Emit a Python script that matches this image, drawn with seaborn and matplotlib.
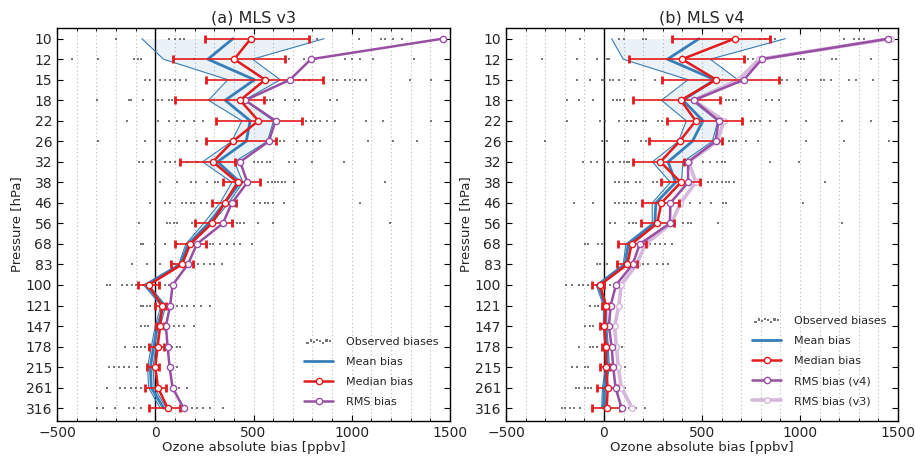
import numpy as np
import pandas as pd
import matplotlib
matplotlib.use("Agg")
import matplotlib.pyplot as plt
import seaborn as sns

# MLS standard pressure levels [hPa] and their tick labels
pressure = [10.0, 12.115, 14.678, 17.783, 21.544, 26.102, 31.623, 38.312, 46.416, 56.234,
            68.129, 82.540, 100.0, 121.15, 146.78, 177.83, 215.44, 261.02, 316.23]
level_labels = ["10", "12", "15", "18", "22", "26", "32", "38", "46", "56",
                "68", "83", "100", "121", "147", "178", "215", "261", "316"]

# ---- panel (a) MLS v3 ----
mean_v3 = [395, 268, 505, 356, 483, 463, 317, 432, 353, 271, 169, 127, -46, 42, 12, -8, -25, -20, 42]
mean_lo_v3 = [-68, 42, 369, 271, 441, 390, 241, 390, 330, 246, 156, 119, -59, 29, 0, -20, -39, -34, 25]
mean_hi_v3 = [859, 495, 636, 453, 602, 571, 403, 446, 373, 288, 181, 136, -34, 54, 25, 5, -12, -5, 56]
median_v3 = [486, 402, 559, 432, 525, 395, 293, 419, 353, 288, 178, 136, -34, 34, 25, 12, 0, 14, 63]
med_lo_v3 = [254, 90, 258, 98, 310, 259, 124, 344, 288, 200, 102, 81, -90, 0, 3, -34, -42, -51, -31]
med_hi_v3 = [780, 661, 856, 554, 746, 615, 407, 531, 412, 390, 258, 190, 17, 56, 46, 46, 17, 56, 127]
rms_v3 = [1463, 792, 686, 458, 612, 578, 432, 469, 390, 344, 212, 166, 88, 76, 54, 63, 73, 88, 144]
obs_v3 = [
    [-200, 70, 100, 125, 145, 822, 1035, 1150, 1170, 1210, 1255],
    [-425, -290, -110, -90, -75, 95, 195, 680, 755, 820, 965, 1000, 1040, 1110, 1315],
    [-50, -25, 25, 50, 75, 100, 125, 155, 730, 755, 780, 905, 925, 965, 990, 1015, 1040, 1070, 1295, 1405],
    [-295, -135, -125, -60, 15, 35, 70, 85, 570, 585, 600, 660, 710, 730, 890, 925],
    [-145, 15, 70, 110, 145, 195, 245, 765, 795, 815, 840, 875, 915, 1070, 1160, 1405],
    [-290, -50, 25, 75, 120, 160, 210, 635, 655, 720, 770, 805, 840, 1085, 1210, 1330],
    [-85, -60, -15, 50, 75, 100, 160, 210, 500, 525, 545, 570, 585, 680, 710, 800, 960],
    [25, 110, 180, 205, 265, 305, 320, 575, 595, 610, 625, 645, 660, 705, 1170],
    [-25, 50, 75, 135, 155, 180, 195, 235, 265, 315, 500, 535, 560, 575, 600, 655, 1040],
    [-85, 60, 75, 95, 110, 185, 415, 430, 450, 525, 600, 1195],
    [-75, -60, 0, 50, 110, 265, 280, 295, 330, 365, 400, 430, 490],
    [-120, -40, 25, 95, 195, 220, 250, 280, 300, 340],
    [-245, -230, -170, -145, -120, -100, -60, 25, 50, 70],
    [-75, -60, -40, -25, 85, 110, 135, 160, 195, 235, 280],
    [-70, -50, -35, 95, 120, 145, 195],
    [-155, -110, -95, -70, -50, 85, 110, 125],
    [-235, -210, -185, -160, -135, -95, 85, 110],
    [-245, -180, -155, -125, -100, -75, 120, 160],
    [-295, -265, -205, -135, -110, -75, 185, 210, 245, 280, 345],
]

# ---- panel (b) MLS v4 ----
mean_v4 = [485, 324, 565, 403, 505, 451, 327, 365, 265, 259, 124, 107, -29, 5, 5, 14, 17, 2, -3]
mean_lo_v4 = [39, 98, 429, 293, 420, 380, 247, 339, 246, 246, 112, 98, -40, -3, -3, 5, 8, -8, -12]
mean_hi_v4 = [925, 542, 683, 446, 581, 553, 403, 395, 293, 271, 136, 115, -20, 14, 14, 22, 27, 12, 7]
median_v4 = [666, 398, 573, 392, 468, 386, 288, 392, 293, 271, 141, 119, -20, 10, 2, 8, 10, 19, 14]
med_lo_v4 = [349, 127, 297, 149, 324, 231, 149, 290, 192, 188, 73, 64, -59, -8, -20, -12, -20, -34, -59]
med_hi_v4 = [849, 712, 895, 590, 705, 602, 407, 488, 381, 358, 212, 166, 2, 25, 22, 17, 31, 64, 81]
rms_v4 = [1451, 805, 714, 458, 585, 569, 429, 429, 339, 336, 183, 146, 61, 34, 25, 39, 47, 59, 90]
obs_v4 = [
    [-120, 75, 100, 200, 215, 795, 820, 845, 870, 1225, 1275, 1300, 1325],
    [-315, -140, -35, 15, 25, 735, 760, 990, 1005, 1020, 1165, 1185, 1360],
    [-140, -70, -10, 0, 30, 45, 75, 140, 160, 260, 910, 935, 990, 1030, 1105, 1120, 1160, 1250, 1285, 1370],
    [-190, -130, -55, 45, 65, 80, 100, 625, 640, 660, 675, 740, 825, 855, 895],
    [-190, -20, 5, 75, 115, 140, 165, 200, 215, 275, 295, 750, 770, 795, 845, 930, 1030, 1215, 1360],
    [-300, -10, 15, 105, 125, 190, 215, 640, 660, 675, 725, 785, 1030, 1225, 1455],
    [-105, -65, -35, 5, 20, 45, 80, 100, 115, 130, 505, 540, 575, 600, 615, 845, 995],
    [55, 75, 105, 125, 165, 185, 250, 270, 530, 550, 575, 600, 625, 640, 665, 1130],
    [-155, -55, 55, 75, 100, 115, 140, 165, 440, 490, 545, 605, 625, 1015],
    [30, 55, 130, 150, 165, 405, 430, 445, 580, 1215],
    [-95, -80, -30, -10, 235, 260, 285, 310, 345],
    [-35, -20, 15, 200, 225, 270, 300, 325],
    [-195, -165, -130, -105, -80, 30, 55],
    [-70, -45, -30, 45, 75],
    [-95, -70, -55, 45, 65],
    [-130, -70, -55, -35, 75, 90],
    [-165, -140, -95, -80, 80, 105],
    [-145, -130, -95, -80, -65, 80, 105],
    [-215, -200, -175, -155, -120, 130, 165, 210],
]

titles = ["(a) MLS v3", "(b) MLS v4"]
xticks = [-500, 0, 500, 1000, 1500]
xticklabels = ["\u2212500", "0", "500", "1000", "1500"]

BLUE = "#377eb8"
RED = "#e41a1c"
PURPLE = "#984ea3"
LIGHT_PURPLE = "#d6b8dc"

sns.set_theme(style="ticks")
plt.rcParams["font.family"] = ["DejaVu Sans"]

fig = plt.figure(figsize=(9.15, 4.57), dpi=100)
axes = [fig.add_axes([0.0623, 0.0785, 0.4295, 0.861]),
        fig.add_axes([0.5530, 0.0785, 0.4284, 0.861])]

panels = [
    (mean_v3, mean_lo_v3, mean_hi_v3, median_v3, med_lo_v3, med_hi_v3, rms_v3, obs_v3),
    (mean_v4, mean_lo_v4, mean_hi_v4, median_v4, med_lo_v4, med_hi_v4, rms_v4, obs_v4),
]

for i, (ax, pdat) in enumerate(zip(axes, panels)):
    mean, mlo, mhi, med, dlo, dhi, rms, obs = pdat
    df = pd.DataFrame({"p": pressure, "mean": mean, "lo": mlo, "hi": mhi,
                       "med": med, "dlo": dlo, "dhi": dhi, "rms": rms, "rms3": rms_v3})
    ox, oy = [], []
    for lev, vals in zip(pressure, obs):
        ox += vals
        oy += [lev] * len(vals)
    dfo = pd.DataFrame({"x": ox, "p": oy})

    ax.set_yscale("log")
    for gx in range(-400, 1500, 100):
        ax.axvline(gx, color="#bbbbbb", lw=0.8, ls=(0, (1, 2.5)), zorder=0)
    ax.axvline(0, color="black", lw=1.0, zorder=1)

    ax.fill_betweenx(df["p"], df["lo"], df["hi"], color=BLUE, alpha=0.1, lw=0, zorder=1)
    sns.lineplot(data=df, x="lo", y="p", sort=False, orient="y", estimator=None,
                 color=BLUE, lw=0.8, ax=ax, zorder=2)
    sns.lineplot(data=df, x="hi", y="p", sort=False, orient="y", estimator=None,
                 color=BLUE, lw=0.8, ax=ax, zorder=2)
    sns.scatterplot(data=dfo, x="x", y="p", ax=ax, color="#555555", s=2.5,
                    marker="s", linewidth=0, alpha=0.8, zorder=2,
                    label="Observed biases")
    sns.lineplot(data=df, x="mean", y="p", sort=False, orient="y", estimator=None,
                 color=BLUE, lw=2.0, ax=ax, zorder=3, label="Mean bias")
    if i == 1:
        sns.lineplot(data=df, x="rms3", y="p", sort=False, orient="y", estimator=None,
                     color=LIGHT_PURPLE, lw=2.6, marker="o", ms=4,
                     markerfacecolor="white", markeredgecolor=LIGHT_PURPLE,
                     markeredgewidth=1.0, ax=ax, zorder=3, label="RMS bias (v3)")
    ax.errorbar(df["med"], df["p"], xerr=[df["med"] - df["dlo"], df["dhi"] - df["med"]],
                fmt="none", ecolor=RED, elinewidth=1.2, capsize=3, capthick=2.0, zorder=4)
    sns.lineplot(data=df, x="rms", y="p", sort=False, orient="y", estimator=None,
                 color=PURPLE, lw=1.8, marker="o", ms=4.5,
                 markerfacecolor="white", markeredgecolor=PURPLE, markeredgewidth=1.0,
                 ax=ax, zorder=4, label="RMS bias" if i == 0 else "RMS bias (v4)")
    sns.lineplot(data=df, x="med", y="p", sort=False, orient="y", estimator=None,
                 color=RED, lw=1.8, marker="o", ms=4.5,
                 markerfacecolor="white", markeredgecolor=RED, markeredgewidth=1.0,
                 ax=ax, zorder=5, label="Median bias")

    ax.set_xlim(-500, 1500)
    ax.set_ylim(357, 9.02)
    ax.set_yticks(pressure)
    ax.set_yticklabels(level_labels)
    ax.yaxis.set_minor_locator(matplotlib.ticker.NullLocator())
    ax.set_xticks(xticks)
    ax.set_xticklabels(xticklabels)
    ax.xaxis.set_minor_locator(matplotlib.ticker.MultipleLocator(100))
    ax.tick_params(axis="both", which="both", direction="in", top=True, right=True,
                   labelsize=10, color="black")
    ax.tick_params(axis="both", which="major", length=4, width=0.8)
    ax.tick_params(axis="x", which="minor", length=2, width=0.6)
    for s in ax.spines.values():
        s.set_color("black")
        s.set_linewidth(1.0)
    ax.set_xlabel("Ozone absolute bias [ppbv]", fontsize=9.5, labelpad=1)
    ax.set_ylabel("Pressure [hPa]", fontsize=9.5, labelpad=2)
    ax.set_title(titles[i], fontsize=11.5, pad=4)

    handles, labels = ax.get_legend_handles_labels()
    hmap = dict(zip(labels, handles))
    if i == 0:
        order = ["Observed biases", "Mean bias", "Median bias", "RMS bias"]
    else:
        order = ["Observed biases", "Mean bias", "Median bias", "RMS bias (v4)", "RMS bias (v3)"]
    hl = [hmap[k] for k in order]
    ax.legend(hl, order, loc="lower right", frameon=False, fontsize=8,
              scatterpoints=8, scatteryoffsets=[0.3, 0.6, 0.4, 0.7, 0.5, 0.3, 0.6, 0.5],
              handlelength=2.6, handletextpad=1.2, labelspacing=0.9, borderaxespad=0.6,
              bbox_to_anchor=(1.0, 0.007) if i == 0 else (1.0, 0.01))

fig.savefig("out.png", dpi=100)
